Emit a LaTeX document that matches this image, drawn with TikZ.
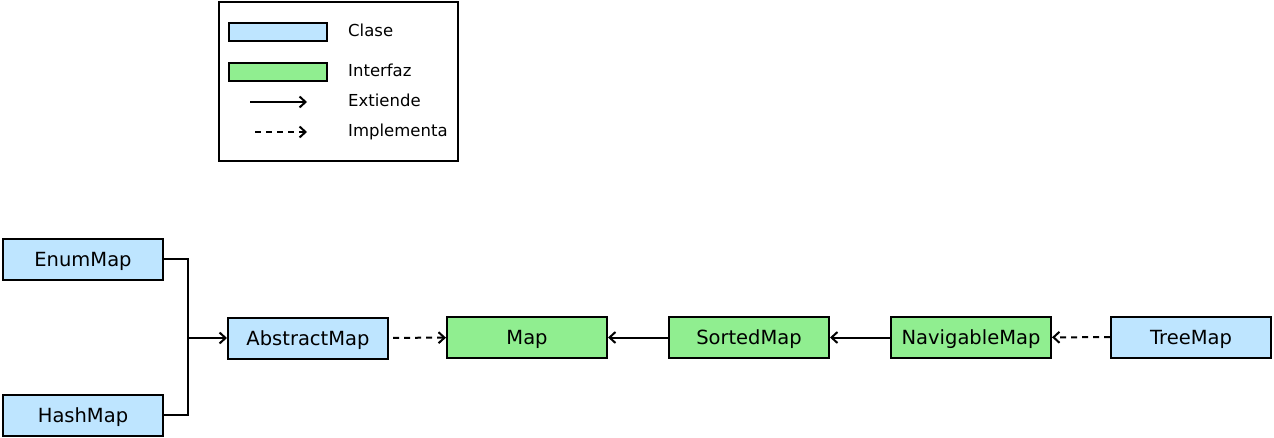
\documentclass[tikz,border=0pt]{standalone}
\usepackage{fontspec}
\setmainfont{DejaVu Sans}
\usetikzlibrary{arrows.meta}
\definecolor{clase}{RGB}{190,229,255}
\definecolor{interfaz}{RGB}{144,238,144}
\tikzstyle{claseblock} = [rectangle, minimum width=160pt, minimum height=41pt, inner sep=0pt, text height=14.2pt, text depth=0pt, text centered, draw=black, fill=clase, line width=2pt, font=\fontsize{19.5}{22}\selectfont]
\tikzstyle{interfazblock} = [claseblock, fill=interfaz]
\tikzstyle{muestra} = [rectangle, minimum width=98pt, minimum height=18pt, inner sep=0pt, draw=black, line width=2pt]
\tikzstyle{leyenda} = [anchor=west, inner sep=0pt, text height=12pt, text depth=0pt, font=\fontsize{16.5}{18}\selectfont]
\tikzstyle{extiende} = [line width=2pt, -{Straight Barb[length=6pt,width=11pt]}]
\tikzstyle{implementa} = [extiende, dash pattern=on 6pt off 5pt]

\begin{document}
\begin{tikzpicture}[x=1pt, y=-1pt, node distance=222pt]
\useasboundingbox (0,0) rectangle (1274,438);

% leyenda
\node (marco) [rectangle, draw=black, line width=2pt, minimum width=239pt, minimum height=159pt, inner sep=0pt] at (338,82) {};
\node (clasemuestra) [muestra, fill=clase] at (278,32) {};
\node (interfazmuestra) [muestra, fill=interfaz] at (278,72) {};
\node (clasetexto) [leyenda] at (348,31) {Clase};
\node (interfaztexto) [leyenda] at (348,71) {Interfaz};
\node (extiendetexto) [leyenda] at (348,101) {Extiende};
\node (implementatexto) [leyenda] at (348,131) {Implementa};
\coordinate (extA) at (250,102);
\coordinate (extB) at (307,102);
\coordinate (impA) at (255,132);
\coordinate (impB) at (307,132);
\draw [extiende] (extA) -- (extB);
\draw [implementa] (impA) -- (impB);

% diagrama
\node (map) [interfazblock] at (527,337.5) {Map};
\node (sortedmap) [interfazblock, right of=map] {SortedMap};
\node (navigablemap) [interfazblock, right of=sortedmap] {NavigableMap};
\node (treemap) [claseblock] at (1191,337) {TreeMap};
\node (abstractmap) [claseblock] at (308,338) {AbstractMap};
\node (enummap) [claseblock] at (83,259.5) {EnumMap};
\node (hashmap) [claseblock] at (83,415) {HashMap};
\coordinate (junta) at (188,338);

\draw [line width=2pt] (enummap.east) -| (junta);
\draw [line width=2pt] (hashmap.east) -| (junta);
\draw [extiende] (junta) -- (abstractmap.west);
\draw [implementa, shorten <=4pt] (abstractmap) -- (map);
\draw [extiende] (sortedmap) -- (map);
\draw [extiende] (navigablemap) -- (sortedmap);
\draw [implementa] (treemap) -- (navigablemap);

\end{tikzpicture}
\end{document}
